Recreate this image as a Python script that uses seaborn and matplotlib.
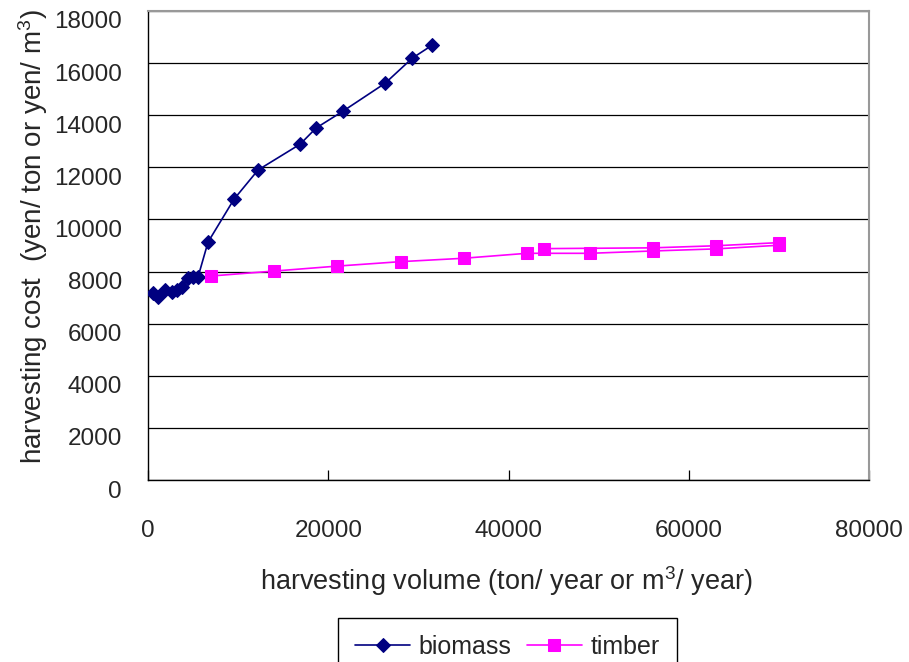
import numpy as np
import pandas as pd
import matplotlib
matplotlib.use("Agg")
import matplotlib.pyplot as plt
from matplotlib.transforms import ScaledTranslation
import seaborn as sns

# Biomass harvesting: volume (ton/year) vs cost (yen/ton)
biomass_volume = [550, 1080, 1860, 2630, 3190, 3740, 4410, 4970, 5520,
                  6630, 9520, 12190, 16860, 18630, 21630, 26300, 29300, 31520]
biomass_cost = [7180, 7020, 7290, 7210, 7290, 7410, 7750, 7790, 7790,
                9130, 10780, 11900, 12890, 13510, 14160, 15230, 16190, 16690]

# Timber harvesting: volume (m3/year) vs cost (yen/m3), drawn in table order
timber_volume = [7000, 14000, 21000, 28000, 35000, 42000, 49000, 56000, 63000,
                 70000, 70000, 63000, 56000, 43900]
timber_cost = [7830, 8020, 8210, 8380, 8510, 8700, 8700, 8790, 8870,
               9010, 9110, 8990, 8910, 8880]

x_ticks = [0, 20000, 40000, 60000, 80000]
y_ticks = list(range(0, 18001, 2000))

sns.set_style("white")
plt.rcParams["font.family"] = ["Liberation Sans", "DejaVu Sans"]
plt.rcParams["mathtext.fontset"] = "custom"
plt.rcParams["mathtext.rm"] = "Liberation Sans"
plt.rcParams["mathtext.it"] = "Liberation Sans"

W, H = 909, 662
fig = plt.figure(figsize=(W / 100, H / 100), dpi=100)
ax = fig.add_axes([148.3 / W, 1 - 480 / H, (869 - 148.3) / W, (480 - 11) / H])

bio = pd.DataFrame({"volume": biomass_volume, "cost": biomass_cost})
tim = pd.DataFrame({"volume": timber_volume, "cost": timber_cost})

sns.lineplot(data=bio, x="volume", y="cost", ax=ax, sort=False, estimator=None,
             color="#000080", marker="D", markersize=7.5, markeredgecolor="#000080",
             linewidth=1.2, label="biomass", zorder=3)
sns.lineplot(data=tim, x="volume", y="cost", ax=ax, sort=False, estimator=None,
             color="#FF00FF", marker="s", markersize=8.5, markeredgecolor="#FF00FF",
             linewidth=1.2, label="timber", zorder=3)

ax.set_xlim(0, 80000)
ax.set_ylim(0, 18000)
ax.set_xticks(x_ticks)
ax.set_yticks(y_ticks)
ax.set_xticklabels([str(v) for v in x_ticks])
ax.set_yticklabels([str(v) for v in y_ticks])

ax.yaxis.grid(True, color="black", linewidth=0.9)
ax.xaxis.grid(False)
ax.set_axisbelow(True)

for side in ("left", "bottom"):
    ax.spines[side].set_color("black")
    ax.spines[side].set_linewidth(1.0)
for side in ("top", "right"):
    ax.spines[side].set_color("#999999")
    ax.spines[side].set_linewidth(1.5)

ax.tick_params(axis="x", direction="in", length=7, width=0.9, color="black",
               labelsize=17.5, pad=29, bottom=True)
ax.tick_params(axis="y", length=0, labelsize=17.5, pad=19, left=True)

# Excel-style value labels sit slightly below their gridlines
shift = ScaledTranslation(0, -9 / 100, fig.dpi_scale_trans)
for lab in ax.get_yticklabels():
    lab.set_transform(lab.get_transform() + shift)

ax.set_xlabel("harvesting volume (ton/ year or m$^{3}$/ year)", fontsize=19.5)
ax.set_ylabel("harvesting cost  (yen/ ton or yen/ m$^{3}$)", fontsize=20)
ax.xaxis.set_label_coords(0.497, -0.18)
ax.yaxis.set_label_coords(-0.136, 0.518)

leg = ax.legend(loc="upper center", bbox_to_anchor=(507.5 / W, 1 - 617.7 / H),
                bbox_transform=fig.transFigure, ncol=2, frameon=True, fontsize=18,
                fancybox=False, edgecolor="black", framealpha=1, borderpad=0.7,
                borderaxespad=0, handlelength=2.2, handletextpad=0.35,
                columnspacing=0.6)
leg.get_frame().set_linewidth(1.0)

fig.savefig("out.png", dpi=100)
